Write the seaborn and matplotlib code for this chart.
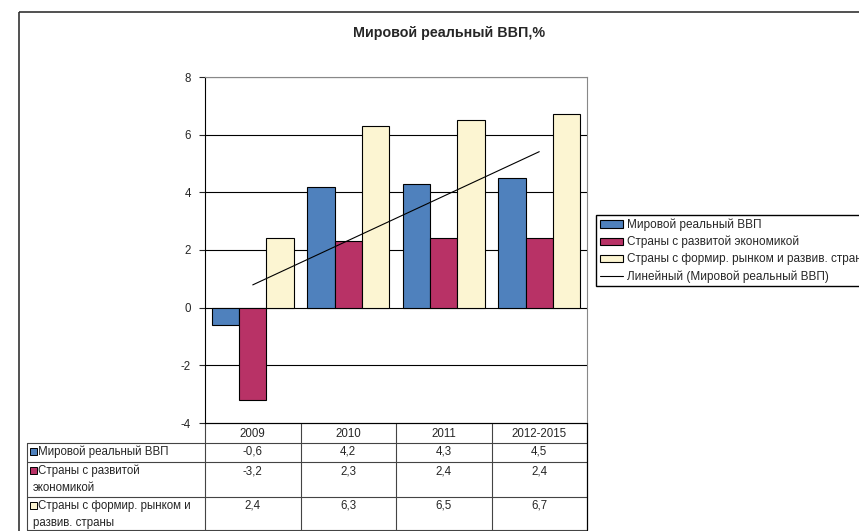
import seaborn as sns
import matplotlib.pyplot as plt
import numpy as np
import pandas as pd
from matplotlib.patches import Patch, Rectangle
from matplotlib.lines import Line2D

sns.set_style("white")
plt.rcParams['font.family'] = ['Liberation Sans', 'DejaVu Sans']
plt.rcParams['axes.unicode_minus'] = False

# data
years = ['2009', '2010', '2011', '2012-2015']
series_names = ['Мировой реальный ВВП',
                'Страны с развитой экономикой',
                'Страны с формир. рынком и развив. страны']
table_labels = ['Мировой реальный ВВП',
                'Страны с развитой\nэкономикой',
                'Страны с формир. рынком и\nразвив. страны']
world = [-0.6, 4.2, 4.3, 4.5]
developed = [-3.2, 2.3, 2.4, 2.4]
emerging = [2.4, 6.3, 6.5, 6.7]
colors = ['#4F81BD', '#B83266', '#FCF5D2']
trend_name = 'Линейный (Мировой реальный ВВП)'
title = 'Мировой реальный ВВП,%'

values = [world, developed, emerging]
df = pd.DataFrame({
    'year': years * 3,
    'series': [s for s in series_names for _ in years],
    'value': world + developed + emerging,
})

W, H = 859, 531
fs = 8.3
fig = plt.figure(figsize=(W / 100, H / 100), dpi=100)

# outer chart frame
bg = fig.add_axes([0, 0, 1, 1])
bg.set_xlim(0, W)
bg.set_ylim(H, 0)
bg.axis('off')
bg.add_patch(Rectangle((19, 12), 900, 600, fill=False, edgecolor='#333333', lw=1.2))

# main plot area
x0, x1, y0, y1 = 205, 587, 77, 423
ax = fig.add_axes([x0 / W, 1 - y1 / H, (x1 - x0) / W, (y1 - y0) / H])
sns.barplot(data=df, x='year', y='value', hue='series', palette=colors,
            saturation=1, width=3 / 3.5, gap=0, edgecolor='black', linewidth=0.8,
            legend=False, ax=ax, zorder=3)

# linear trend of world GDP
xs = np.arange(len(years))
k, b = np.polyfit(xs, world, 1)
ax.plot(xs, k * xs + b, color='black', lw=0.8, zorder=4)

ax.set_ylim(-4, 8)
ax.set_xlim(-0.5, len(years) - 0.5)
ax.set_yticks(range(-4, 9, 2))
ax.set_xticks([])
ax.set_xlabel('')
ax.set_ylabel('')
ax.yaxis.grid(True, color='black', lw=0.8)
ax.set_axisbelow(True)
ax.tick_params(axis='y', length=4, width=0.8, direction='out', labelsize=fs, pad=6, left=True)
for s in ['top', 'right']:
    ax.spines[s].set_color('#888888')
    ax.spines[s].set_linewidth(0.8)
for s in ['left', 'bottom']:
    ax.spines[s].set_color('black')
    ax.spines[s].set_linewidth(0.8)

fig.text(449 / W, 1 - 33 / H, title, ha='center', va='center', fontsize=10.3, fontweight='bold')

# legend (cut off at the right edge, as in the original)
handles = [Patch(facecolor=c, edgecolor='black', lw=0.8) for c in colors]
handles.append(Line2D([], [], color='black', lw=0.8))
fig.legend(handles, series_names + [trend_name], loc='upper left',
           bbox_to_anchor=(596 / W, 1 - 215 / H), fontsize=8.5, frameon=True,
           fancybox=False, edgecolor='black', framealpha=1, borderpad=0.3,
           handlelength=2.0, handleheight=0.6, handletextpad=0.3,
           labelspacing=0.42, borderaxespad=0)

# data table under the chart
cw = (x1 - x0) / len(years)
cols = [x0 + i * cw for i in range(len(years) + 1)]
rows = [423, 443, 462, 497, 530]
tl = 27
line_kw = dict(color='#444444', lw=0.8)
# horizontal lines
bg.plot([x0, x1], [rows[0], rows[0]], color='black', lw=0.8)
for r in rows[1:]:
    bg.plot([tl, x1], [r, r], **line_kw)
# vertical lines
bg.plot([tl, tl], [rows[1], rows[-1]], **line_kw)
for c in cols[:-1]:
    bg.plot([c, c], [rows[0], rows[-1]], **line_kw)
bg.plot([x1, x1], [rows[0], rows[-1]], color='black', lw=0.9)

for i, yr in enumerate(years):
    bg.text((cols[i] + cols[i + 1]) / 2, (rows[0] + rows[1]) / 2 + 1, yr,
            ha='center', va='center', fontsize=fs)
for j, (lab, vals, c) in enumerate(zip(table_labels, values, colors)):
    top = rows[j + 1]
    bg.add_patch(Rectangle((tl + 3, top + 4.5), 7, 7, facecolor=c, edgecolor='black', lw=0.7))
    first, *rest = lab.split('\n')
    bg.text(tl + 11, top + 9, first, ha='left', va='center', fontsize=fs)
    if rest:
        bg.text(tl + 6, top + 26, rest[0], ha='left', va='center', fontsize=fs)
    for i, v in enumerate(vals):
        bg.text((cols[i] + cols[i + 1]) / 2, top + 9, f'{v:.1f}'.replace('.', ','),
                ha='center', va='center', fontsize=fs)

fig.savefig('out.png', dpi=100)
